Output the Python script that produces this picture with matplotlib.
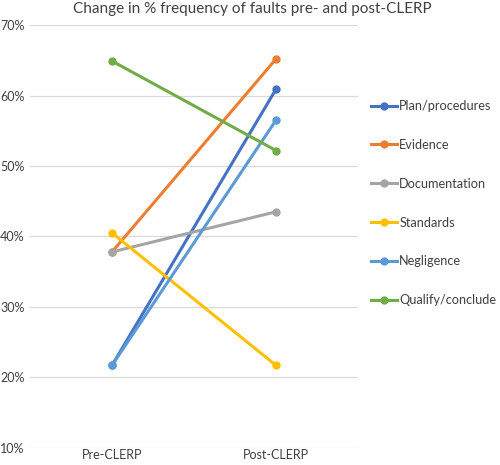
import matplotlib.pyplot as plt
from matplotlib.ticker import PercentFormatter

plt.rcParams['font.family'] = ['Lato', 'DejaVu Sans']

# данные
stages = ['Pre-CLERP', 'Post-CLERP']
series = ['Plan/procedures', 'Evidence', 'Documentation', 'Standards', 'Negligence', 'Qualify/conclude']
plan = [21.7, 60.9]
evidence = [37.8, 65.2]
documentation = [37.8, 43.5]
standards = [40.5, 21.7]
negligence = [21.7, 56.5]
qualify = [64.9, 52.2]
values = [plan, evidence, documentation, standards, negligence, qualify]
colors = ['#4472C4', '#ED7D31', '#A5A5A5', '#FFC000', '#5B9BD5', '#70AD47']

fig = plt.figure(figsize=(5, 4.65), dpi=100)
ax = fig.add_axes([0.06, 0.037, 0.656, 0.909])

x = [0, 1]
for name, vals, c in zip(series, values, colors):
    ax.plot(x, vals, color=c, lw=2.2, marker='o', ms=5, label=name)

ax.set_xlim(-0.5, 1.5)
ax.set_ylim(10, 70)
ax.set_yticks(range(10, 71, 10))
ax.yaxis.set_major_formatter(PercentFormatter(decimals=0))
ax.set_xticks(x)
ax.set_xticklabels(stages)
ax.grid(axis='y', color='#D9D9D9', lw=0.9)
ax.set_axisbelow(True)
for s in ax.spines.values():
    s.set_visible(False)
ax.tick_params(length=0, labelsize=9, colors='#404040', pad=4)
ax.tick_params(axis='x', pad=1)

fig.text(0.505, 0.995, 'Change in % frequency of faults pre- and post-CLERP',
         ha='center', va='top', fontsize=11, color='#404040')

ax.legend(loc='upper left', bbox_to_anchor=(1.005, 0.85), frameon=False,
          fontsize=9.2, labelspacing=2.1, handlelength=2.0, handletextpad=0.2,
          labelcolor='#404040')

fig.savefig('out.png', dpi=100)
